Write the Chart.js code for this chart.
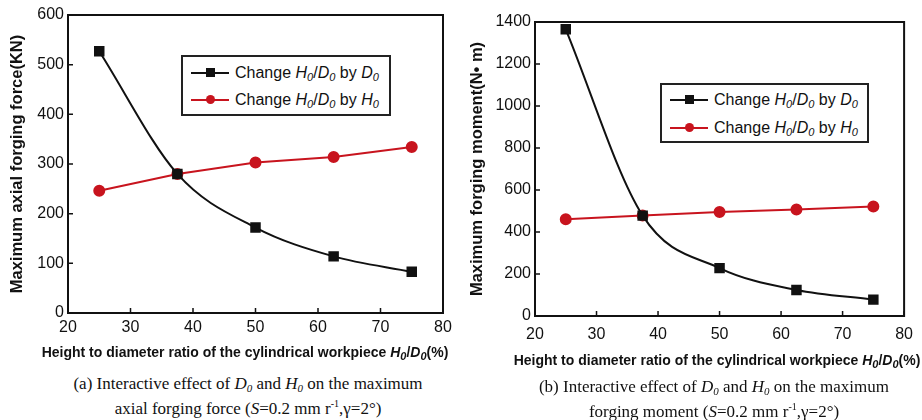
<!DOCTYPE html>
<html>
<head>
<meta charset="utf-8">
<script src="https://cdn.jsdelivr.net/npm/chart.js@4.4.1/dist/chart.umd.min.js"></script>
<style>
  body { margin: 0; background: #fff; }
  #page { position: relative; width: 922px; height: 420px; background: #fff; overflow: hidden; }
  .plot { position: absolute; top: 0; height: 372px; }
  .legend { position: absolute; border: 2px solid #222; background: #fff;
            font-family: "Liberation Sans", Arial, sans-serif; font-size: 16px; color: #111; }
  .row { position: absolute; left: 8px; height: 20px; white-space: nowrap; }
  .sym { position: absolute; left: 0; top: 9px; width: 38px; height: 2px; }
  .mk { position: absolute; left: 15px; top: -4px; width: 9px; height: 9px; }
  .txt { position: absolute; left: 44px; top: 0; line-height: 20px; }
  .xt { position: absolute; font-family: "Liberation Sans", Arial, sans-serif; font-weight: bold;
        font-size: 14px; color: #111; white-space: nowrap; line-height: 18px; transform: translateX(-50%); }
  .cap { position: absolute; font-family: "Liberation Serif", "Times New Roman", serif;
         font-size: 17px; color: #111; text-align: center; white-space: nowrap; line-height: 20px; }
  sub { font-size: 11px; vertical-align: -3px; line-height: 0; }
</style>
</head>
<body>
<div id="page">
  <div class="plot" style="left:0;width:461px"><canvas id="forceChart"></canvas></div>
  <div class="plot" style="left:460px;width:462px"><canvas id="momentChart"></canvas></div>

  <div class="legend" style="left:181px;top:55px;width:206px;height:57px">
    <div class="row" style="top:6px"><span class="sym" style="background:#111"><span class="mk" style="background:#111"></span></span>
      <span class="txt">Change <i>H<sub>0</sub></i>/<i>D<sub>0</sub></i> by <i>D<sub>0</sub></i></span></div>
    <div class="row" style="top:33px"><span class="sym" style="background:#c8141e"><span class="mk" style="background:#c8141e;border-radius:50%"></span></span>
      <span class="txt">Change <i>H<sub>0</sub></i>/<i>D<sub>0</sub></i> by <i>H<sub>0</sub></i></span></div>
  </div>
  <div class="legend" style="left:660px;top:83px;width:205px;height:56px">
    <div class="row" style="top:5px"><span class="sym" style="background:#111"><span class="mk" style="background:#111"></span></span>
      <span class="txt">Change <i>H<sub>0</sub></i>/<i>D<sub>0</sub></i> by <i>D<sub>0</sub></i></span></div>
    <div class="row" style="top:33px"><span class="sym" style="background:#c8141e"><span class="mk" style="background:#c8141e;border-radius:50%"></span></span>
      <span class="txt">Change <i>H<sub>0</sub></i>/<i>D<sub>0</sub></i> by <i>H<sub>0</sub></i></span></div>
  </div>

  <div class="xt" style="left:245px;top:343px">Height to diameter ratio of the cylindrical workpiece <i>H<sub>0</sub></i>/<i>D<sub>0</sub></i>(%)</div>
  <div class="xt" style="left:717px;top:351px">Height to diameter ratio of the cylindrical workpiece <i>H<sub>0</sub></i>/<i>D<sub>0</sub></i>(%)</div>

  <div class="cap" style="left:248px;top:374px;transform:translateX(-50%)">
    (a) Interactive effect of <i>D<sub>0</sub></i> and <i>H<sub>0</sub></i> on the maximum<br>
    axial forging force (<i>S</i>=0.2 mm r<sup style="font-size:10px">-1</sup>,γ=2°)
  </div>
  <div class="cap" style="left:714px;top:377px;transform:translateX(-50%)">
    (b) Interactive effect of <i>D<sub>0</sub></i> and <i>H<sub>0</sub></i> on the maximum<br>
    forging moment (<i>S</i>=0.2 mm r<sup style="font-size:10px">-1</sup>,γ=2°)
  </div>
</div>

<script>
// H0/D0 ratio (%) for each simulated case
var ratio = [25, 37.5, 50, 62.5, 75];

// (a) maximum axial forging force, KN
var forceByD0 = [527, 280, 172, 114, 83];
var forceByH0 = [246, 280, 303, 314, 334];

// (b) maximum forging moment, N·m
var momentByD0 = [1365, 478, 228, 124, 78];
var momentByH0 = [461, 478, 495, 507, 521];

var xTicks = [20, 30, 40, 50, 60, 70, 80];
var forceTicks = [0, 100, 200, 300, 400, 500, 600];
var momentTicks = [0, 200, 400, 600, 800, 1000, 1200, 1400];

var BLACK = "#111111";
var RED = "#c8141e";

function pts(ys) {
  var out = [];
  for (var i = 0; i < ratio.length; i++) out.push({x: ratio[i], y: ys[i]});
  return out;
}

// box around the plot and short inward tick marks, like the original figure
var framePlugin = {
  id: "frame",
  afterDraw: function(chart) {
    var ctx = chart.ctx, a = chart.chartArea;
    var xs = chart.scales.x, ys = chart.scales.y;
    ctx.save();
    ctx.strokeStyle = "#111";
    ctx.lineWidth = 2;
    ctx.strokeRect(a.left, a.top, a.right - a.left, a.bottom - a.top);
    ctx.lineWidth = 1.5;
    ctx.beginPath();
    xs.ticks.forEach(function(t) {
      var px = xs.getPixelForValue(t.value);
      ctx.moveTo(px, a.bottom);
      ctx.lineTo(px, a.bottom - 5);
    });
    ys.ticks.forEach(function(t) {
      var py = ys.getPixelForValue(t.value);
      ctx.moveTo(a.left, py);
      ctx.lineTo(a.left + 5, py);
    });
    ctx.stroke();
    ctx.restore();
  }
};

function makeChart(id, d0Vals, h0Vals, yMax, yTicks, yTitle, geo) {
  var cx = document.getElementById(id);
  return new Chart(cx, {
    type: "line",
    data: {
      datasets: [{
        label: "Change H0/D0 by D0",
        data: pts(d0Vals),
        borderColor: BLACK,
        backgroundColor: BLACK,
        borderWidth: 2,
        pointStyle: "rect",
        pointRadius: 6,
        cubicInterpolationMode: "monotone",
        fill: false
      },
      {
        label: "Change H0/D0 by H0",
        data: pts(h0Vals),
        borderColor: RED,
        backgroundColor: RED,
        borderWidth: 2,
        pointStyle: "circle",
        pointRadius: 5,
        tension: 0,
        fill: false
      }]
    },
    options: {
      responsive: true,
      maintainAspectRatio: false,
      animation: false,
      layout: {padding: {left: 0, right: geo.right, top: geo.top, bottom: 0}},
      plugins: {legend: {display: false}, tooltip: {enabled: false}},
      scales: {
        x: {
          type: "linear", min: 20, max: 80,
          afterBuildTicks: function(s) { s.ticks = xTicks.map(function(v) { return {value: v}; }); },
          afterFit: function(s) { s.height = geo.xh; },
          grid: {display: false, drawTicks: false},
          border: {display: false},
          ticks: {color: "#111", padding: geo.xpad, font: {family: "Liberation Sans", size: 16},
                  callback: function(v) { return String(v); }},
          title: {display: false}
        },
        y: {
          type: "linear", min: 0, max: yMax,
          afterBuildTicks: function(s) { s.ticks = yTicks.map(function(v) { return {value: v}; }); },
          afterFit: function(s) { s.width = geo.yw; },
          grid: {display: false, drawTicks: false},
          border: {display: false},
          ticks: {color: "#111", padding: 4, font: {family: "Liberation Sans", size: 16},
                  callback: function(v) { return String(v); }},
          title: {display: true, text: yTitle, color: "#111", padding: {top: 8, bottom: 0},
                  font: {family: "Liberation Sans", size: 16.5, weight: "bold"}}
        }
      }
    },
    plugins: [framePlugin]
  });
}

makeChart("forceChart", forceByD0, forceByH0, 600, forceTicks,
  "Maximum axial forging force(KN)",
  {right: 18, top: 15, xh: 59, yw: 68, xpad: 5});

makeChart("momentChart", momentByD0, momentByH0, 1400, momentTicks,
  "Maximum forging moment(N• m)",
  {right: 11, top: 22, xh: 56, yw: 75, xpad: 9});
</script>
</body>
</html>
